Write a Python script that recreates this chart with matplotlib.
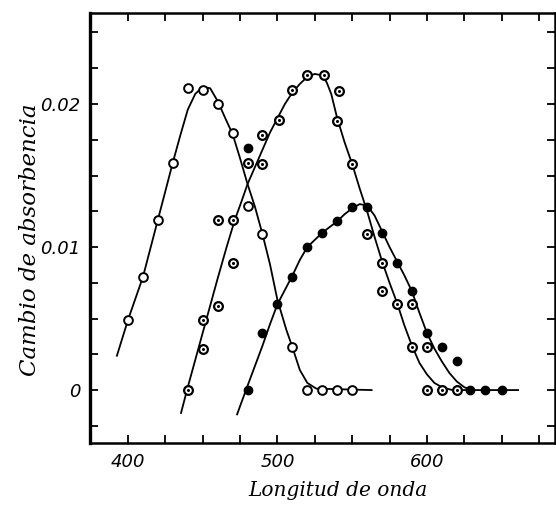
import matplotlib
matplotlib.use("Agg")
import matplotlib.pyplot as plt
from matplotlib.ticker import FixedLocator, FuncFormatter

# ---- data ----
# open circles (curve 1)
open_x = [400, 410, 420, 430, 440, 450, 460, 470, 480, 490, 510, 520, 530, 540, 550]
open_y = [0.0049, 0.0079, 0.0119, 0.0159, 0.0211, 0.0210, 0.0200, 0.0180, 0.0129, 0.0109,
          0.0030, 0.0, 0.0, 0.0, 0.0]

# dotted circles (curve 2)
dot_x = [440, 450, 450, 460, 470, 460, 470, 480, 490, 490, 501, 510, 520, 531, 541, 540,
         550, 560, 570, 570, 580, 590, 590, 600, 600, 610, 620]
dot_y = [0.0, 0.0029, 0.0049, 0.0059, 0.0089, 0.0119, 0.0119, 0.0159, 0.0178, 0.0158,
         0.0189, 0.0210, 0.0220, 0.0220, 0.0209, 0.0188, 0.0158, 0.0109, 0.0089, 0.0069,
         0.0060, 0.0060, 0.0030, 0.0030, 0.0, 0.0, 0.0]

# filled circles (curve 3)
fill_x = [480, 480, 490, 500, 510, 520, 530, 540, 550, 560, 570, 580, 590, 600, 610, 620,
          629, 639, 650]
fill_y = [0.0169, 0.0, 0.0040, 0.0060, 0.0079, 0.0100, 0.0110, 0.0118, 0.0128, 0.0128,
          0.0110, 0.0089, 0.0069, 0.0040, 0.0030, 0.0020, 0.0, 0.0, 0.0]

# hand-drawn curves
c1_x = [392.6, 400, 410, 420, 430, 435, 440, 445, 450, 455, 460, 466, 470, 475, 480, 485,
        490, 495, 500, 506, 510, 515, 520, 526, 563]
c1_y = [0.0024, 0.0049, 0.0079, 0.0119, 0.0159, 0.0178, 0.0196, 0.0207, 0.0212, 0.0211,
        0.0202, 0.0188, 0.0179, 0.0162, 0.0144, 0.0128, 0.0109, 0.0088, 0.0063, 0.0042,
        0.0030, 0.0014, 0.0005, 0.0001, 0.0]

c2_x = [435.5, 440, 450, 460, 466, 471.5, 476, 480, 485, 490, 495, 500, 505, 510, 515, 520,
        525, 530, 533, 536, 540, 545, 550, 555, 560, 565, 570, 575, 580, 585, 590, 595,
        600, 605, 610, 617, 630]
c2_y = [-0.0016, 0.0002, 0.0040, 0.0078, 0.0100, 0.0119, 0.0132, 0.0144, 0.0156, 0.0168,
        0.0180, 0.0190, 0.0200, 0.0208, 0.0214, 0.0219, 0.0221, 0.0220, 0.0215, 0.0207,
        0.0190, 0.0173, 0.0158, 0.0141, 0.0125, 0.0107, 0.0090, 0.0075, 0.0061, 0.0045,
        0.0031, 0.0019, 0.0011, 0.0005, 0.0002, 0.0, 0.0]

c3_x = [473, 480, 485, 490, 495, 500, 505, 510, 515, 520, 525, 530, 535, 540, 545, 550,
        555, 560, 565, 570, 575, 580, 585, 590, 595, 600, 605, 610, 615, 620, 625, 630, 661]
c3_y = [-0.0017, 0.0003, 0.0017, 0.0031, 0.0046, 0.0060, 0.0070, 0.0080, 0.0091, 0.0100,
        0.0105, 0.0110, 0.0114, 0.0118, 0.0123, 0.0127, 0.0130, 0.0129, 0.0122, 0.0111,
        0.0100, 0.0090, 0.0080, 0.0069, 0.0054, 0.0040, 0.0029, 0.0020, 0.0012, 0.0006,
        0.0002, 0.0, 0.0]

x_major = [400, 500, 600]
x_minor = [425, 450, 475, 525, 550, 575, 625, 650, 675]
y_major = [0.0, 0.01, 0.02]
y_minor = [-0.0025, 0.0025, 0.005, 0.0075, 0.0125, 0.015, 0.0175, 0.0225, 0.025]
y_labels = {0.0: "0", 0.01: "0.01", 0.02: "0.02"}

xlabel = "Longitud de onda"
ylabel = "Cambio de absorbencia"

# ---- figure ----
fig = plt.figure(figsize=(5.56, 5.08), dpi=100)
ax = fig.add_axes([90 / 556, 65 / 508, 465 / 556, 430 / 508])

lw = 1.3
for cx, cy in [(c1_x, c1_y), (c2_x, c2_y), (c3_x, c3_y)]:
    ax.plot(cx, cy, color="black", lw=lw, zorder=2)

ax.plot(open_x, open_y, ls="none", marker="o", ms=6.3, mfc="white", mec="black",
        mew=1.4, zorder=3)
ax.plot(dot_x, dot_y, ls="none", marker="o", ms=6.3, mfc="white", mec="black",
        mew=1.6, zorder=3)
ax.plot(dot_x, dot_y, ls="none", marker="o", ms=2.2, mfc="black", mec="black",
        mew=0, zorder=4)
ax.plot(fill_x, fill_y, ls="none", marker="o", ms=6, mfc="black", mec="black",
        mew=1, zorder=3)

ax.set_xlim(374.6, 685.7)
ax.set_ylim(-0.0037, 0.02636)

ax.xaxis.set_major_locator(FixedLocator(x_major))
ax.xaxis.set_minor_locator(FixedLocator(x_minor))
ax.yaxis.set_major_locator(FixedLocator(y_major))
ax.yaxis.set_minor_locator(FixedLocator(y_minor))
ax.yaxis.set_major_formatter(FuncFormatter(lambda v, p: y_labels.get(round(v, 4), "")))
ax.xaxis.set_major_formatter(FuncFormatter(lambda v, p: f"{int(v)}"))

for which in ("major", "minor"):
    ax.tick_params(axis="both", which=which, direction="in", length=6, width=1.3,
                   top=True, right=True, color="black")
ax.tick_params(axis="both", which="major", pad=7, labelsize=13)

for lab in ax.get_xticklabels() + ax.get_yticklabels():
    lab.set_fontstyle("italic")
    lab.set_family("DejaVu Sans")

for s in ax.spines.values():
    s.set_linewidth(1.8)
ax.spines["left"].set_linewidth(2.4)

fig.text(338 / 556, 1 - 491 / 508, xlabel, fontsize=14.5, family="DejaVu Serif",
         style="italic", ha="center", va="center")
fig.text(30 / 556, 1 - 240 / 508, ylabel, fontsize=16.5, family="DejaVu Serif",
         style="italic", ha="center", va="center", rotation=90)

fig.savefig("out.png", dpi=100, facecolor="white")
